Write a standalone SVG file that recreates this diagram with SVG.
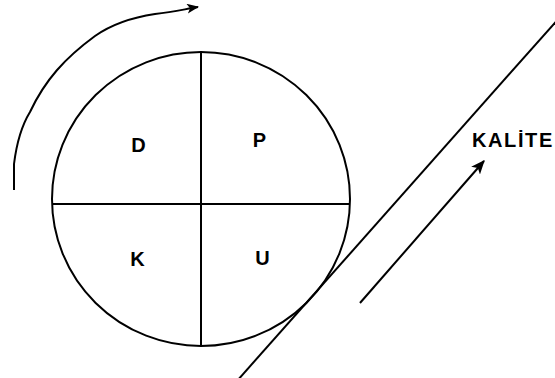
<svg xmlns="http://www.w3.org/2000/svg" width="555" height="378" viewBox="0 0 555 378">
<style>
.ln{fill:none;stroke:#000;stroke-width:2}
.lbl{font-family:"Liberation Sans",Arial,sans-serif;font-weight:bold;font-size:20px;fill:#000}
</style>
<defs>
<marker id="ah" viewBox="0 0 12 10" refX="11" refY="5" markerWidth="6" markerHeight="5" markerUnits="strokeWidth" orient="auto">
<path d="M0,0 L12,5 L0,10 L3,5 z" fill="#000"/>
</marker>
<marker id="ah2" viewBox="0 0 12 10" refX="11" refY="5" markerWidth="7" markerHeight="6" markerUnits="strokeWidth" orient="auto">
<path d="M0,0 L12,5 L0,10 L3,5 z" fill="#000"/>
</marker>
</defs>
<rect width="555" height="378" fill="#fff"/>
<g id="cycle">
<ellipse class="ln" cx="201" cy="199" rx="149" ry="147"/>
<line class="ln" x1="201" y1="52" x2="201" y2="346"/>
<line class="ln" x1="52" y1="204" x2="350" y2="204"/>
</g>
<g id="D"><text class="lbl" x="138.5" y="152" text-anchor="middle">D</text></g>
<g id="P"><text class="lbl" x="259.5" y="147" text-anchor="middle">P</text></g>
<g id="K"><text class="lbl" x="137.5" y="266" text-anchor="middle">K</text></g>
<g id="U"><text class="lbl" x="262.5" y="265" text-anchor="middle">U</text></g>
<g id="KALITE"><text class="lbl" x="472" y="147" letter-spacing="1.6">KALİTE</text></g>
<g id="connectors">
<line class="ln" x1="237" y1="381" x2="560" y2="17"/>
<path class="ln" d="M14,190 L14,164 C17,140 22,125 30,112 C45,80 65,58 95,36 C115,22 135,17 155,14 C175,12 185,9 198,7" stroke-width="2" marker-end="url(#ah)"/>
<line class="ln" x1="360" y1="303" x2="484" y2="161" stroke-width="1.6" marker-end="url(#ah2)"/>
</g>
</svg>
